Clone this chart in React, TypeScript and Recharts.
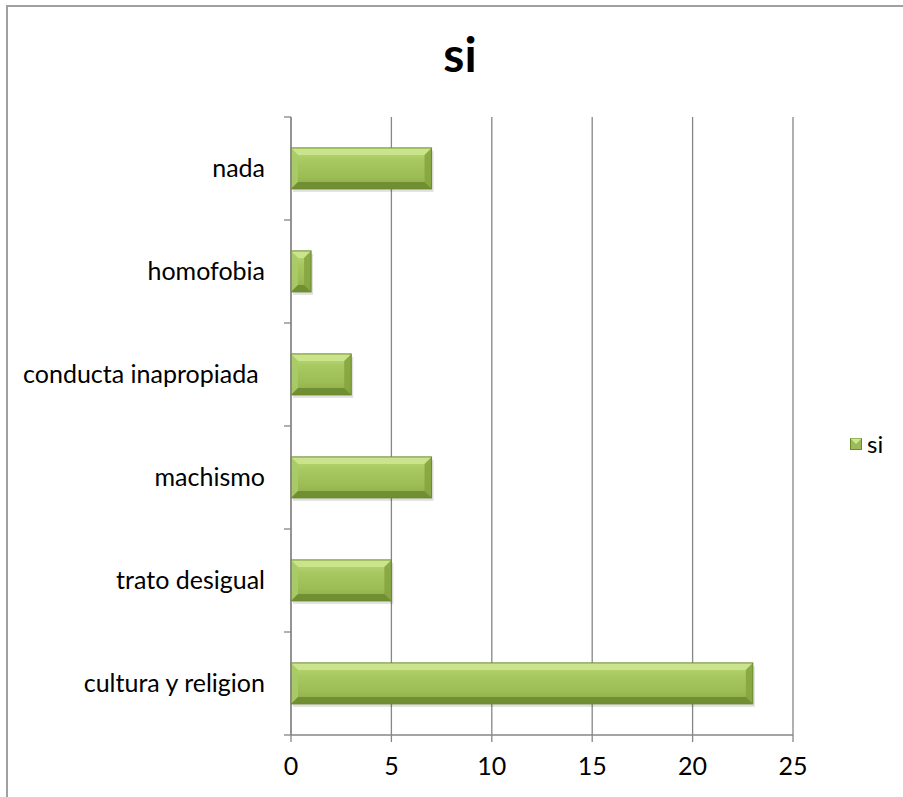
import React from "react";
import { BarChart, Bar, XAxis, YAxis, CartesianGrid } from "recharts";

const categories = ["nada", "homofobia", "conducta inapropiada ", "machismo", "trato desigual", "cultura y religion"];
const siValues = [7, 1, 3, 7, 5, 23];
const xTicks = [0, 5, 10, 15, 20, 25];
const seriesName = "si";
const title = "si";

const data = categories.map((c, i) => ({ cat: c, si: siValues[i] }));

const FONT = "Lato, 'Open Sans', sans-serif";
const AXIS = "#868686";
const PLOT_TOP = 117;
const PLOT_BOTTOM = 735;
const AXIS_X = 291;
const BAND = (PLOT_BOTTOM - PLOT_TOP) / categories.length;

const BevelBar = (props: any) => {
  const { x, y, width, height } = props;
  if (!width || width <= 0) return null;
  const b = Math.min(7, width / 2, height / 2);
  const x2 = x + width;
  const y2 = y + height;
  return (
    <g>
      <rect x={x + 2} y={y + 3} width={width} height={height} fill="#000" opacity={0.12} />
      <rect x={x} y={y} width={width} height={height} fill="url(#barBody)" />
      <polygon points={`${x},${y} ${x2},${y} ${x2 - b},${y + b} ${x + b},${y + b}`} fill="#cde68f" opacity={0.9} />
      <polygon points={`${x},${y} ${x + b},${y + b} ${x + b},${y2 - b} ${x},${y2}`} fill="#aacb68" opacity={0.9} />
      <polygon points={`${x2},${y} ${x2},${y2} ${x2 - b},${y2 - b} ${x2 - b},${y + b}`} fill="#86a540" opacity={0.9} />
      <polygon points={`${x},${y2} ${x + b},${y2 - b} ${x2 - b},${y2 - b} ${x2},${y2}`} fill="#6f8d31" opacity={0.95} />
      <rect x={x} y={y} width={width} height={height} fill="none" stroke="#6a8a2c" strokeWidth={1} />
    </g>
  );
};

const CatTick = (props: any) => {
  const { y, payload, index } = props;
  const isLast = index === categories.length - 1;
  return (
    <g>
      <line x1={AXIS_X - 7} x2={AXIS_X} y1={y - BAND / 2} y2={y - BAND / 2} stroke={AXIS} strokeWidth={1.3} />
      {isLast && <line x1={AXIS_X - 7} x2={AXIS_X} y1={y + BAND / 2} y2={y + BAND / 2} stroke={AXIS} strokeWidth={1.3} />}
      <text
        x={AXIS_X - 26}
        y={y}
        dy="0.35em"
        textAnchor="end"
        fill="#000"
        fontSize={25}
        fontFamily={FONT}
        style={{ whiteSpace: "pre" }}
      >
        {payload.value}
      </text>
    </g>
  );
};

export default function App() {
  return (
    <div style={{ position: "absolute", left: 0, top: 0, width: 903, height: 797, background: "#fff", overflow: "hidden" }}>
      <div style={{ position: "absolute", left: 6, top: 5, width: 910, height: 810, border: "2px solid #a0a0a0", boxSizing: "border-box" }} />
      <div style={{ position: "absolute", left: 0, top: 24, width: 920, textAlign: "center", fontFamily: FONT, fontWeight: 700, fontSize: 48, lineHeight: "60px", color: "#000" }}>
        {title}
      </div>
      <div style={{ position: "absolute", left: 0, top: 0 }}>
        <BarChart
          width={903}
          height={797}
          data={data}
          layout="vertical"
          margin={{ top: PLOT_TOP, right: 110, bottom: 12, left: 0 }}
          barCategoryGap="30%"
        >
          <defs>
            <linearGradient id="barBody" x1="0" y1="0" x2="0" y2="1">
              <stop offset="0%" stopColor="#bddb7b" />
              <stop offset="30%" stopColor="#a8c961" />
              <stop offset="70%" stopColor="#9cbd55" />
              <stop offset="100%" stopColor="#89a946" />
            </linearGradient>
          </defs>
          <CartesianGrid horizontal={false} stroke={AXIS} strokeWidth={1.3} />
          <XAxis
            type="number"
            domain={[0, 25]}
            ticks={xTicks}
            interval={0}
            height={50}
            stroke={AXIS}
            strokeWidth={1.3}
            tickSize={7}
            tickMargin={15}
            tick={{ fill: "#000", fontSize: 25, fontFamily: FONT }}
          />
          <YAxis
            type="category"
            dataKey="cat"
            width={AXIS_X}
            axisLine={{ stroke: AXIS, strokeWidth: 1.3 }}
            tickLine={false}
            interval={0}
            tick={CatTick}
          />
          <Bar dataKey="si" name={seriesName} shape={BevelBar} isAnimationActive={false} />
        </BarChart>
      </div>
      <div style={{ position: "absolute", left: 850, top: 429, display: "flex", alignItems: "center", fontFamily: FONT, fontSize: 24, color: "#000" }}>
        <svg width={12} height={12} style={{ marginRight: 5 }}>
          <rect x={0.5} y={0.5} width={11} height={11} fill="#9bbb59" stroke="#6a8a2c" />
          <polygon points="0.5,0.5 11.5,0.5 6,6" fill="#cde68f" />
        </svg>
        <span>{seriesName}</span>
      </div>
    </div>
  );
}
